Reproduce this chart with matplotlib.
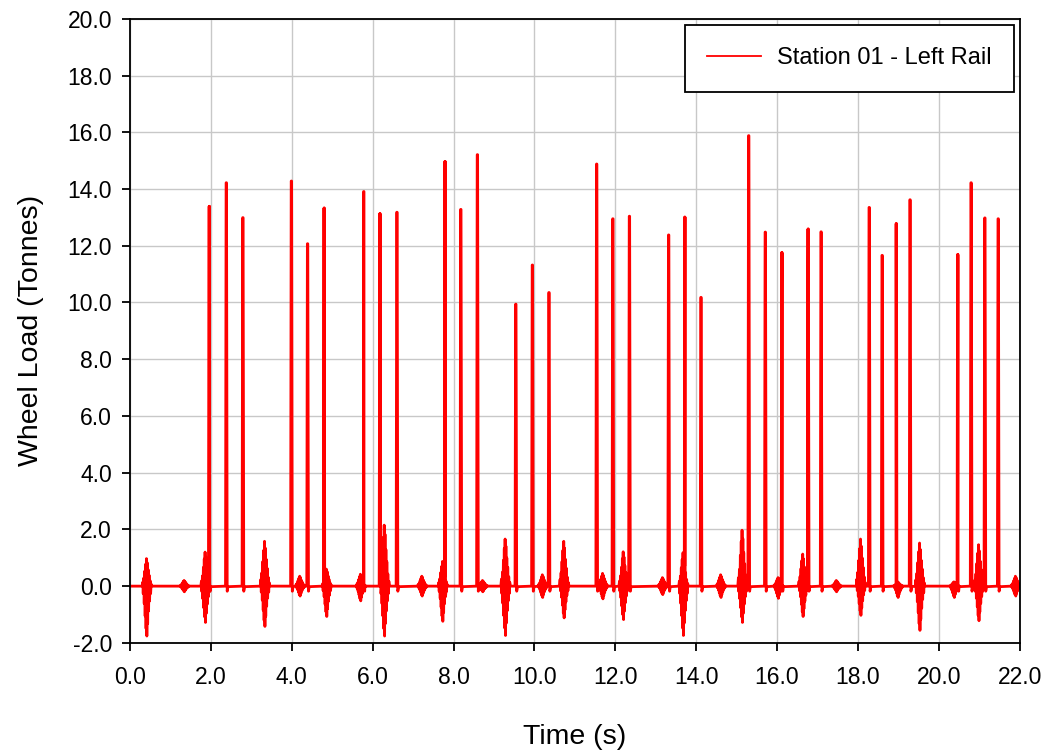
import numpy as np
import matplotlib
matplotlib.use("Agg")
import matplotlib.pyplot as plt

plt.rcParams["font.family"] = ["Liberation Sans", "DejaVu Sans"]

# Wheel passes: time of spike (s) and peak load (tonnes)
peak_t = [1.96, 2.38, 2.79, 3.99, 4.39, 4.80, 5.78, 6.18, 6.60,
          7.79, 8.18, 8.59, 9.54, 9.95, 10.36, 11.54, 11.94, 12.35, 13.32, 13.72,
          14.12, 15.30, 15.71, 16.12, 16.77, 17.09, 18.28, 18.60, 18.95, 19.29,
          20.47, 20.80, 21.14, 21.47]
peak_v = [13.39, 14.22, 12.99, 14.28, 12.07, 13.33, 13.91, 13.13, 13.18,
          14.97, 13.28, 15.21, 9.94, 11.32, 10.35, 14.88, 12.95, 13.04, 12.38, 13.01,
          10.18, 15.88, 12.48, 11.76, 12.59, 12.49, 13.35, 11.66, 12.78, 13.62,
          11.69, 14.22, 12.98, 12.95]

# Vibration bursts between passes: centre time, max and min load
burst_t = [0.41, 1.34, 1.86, 3.33, 4.20, 4.86, 5.70, 6.29,
           7.22, 7.73, 8.72, 9.28, 10.20, 10.73, 11.69, 12.20, 13.17, 13.68,
           14.61, 15.14, 16.03, 16.64, 17.47, 18.07, 18.99, 19.53, 20.38, 20.99, 21.90]
burst_hi = [0.97, 0.20, 1.20, 1.58, 0.35, 0.60, 0.42, 2.15,
            0.35, 0.87, 0.20, 1.66, 0.40, 1.58, 0.45, 1.21, 0.30, 1.18,
            0.40, 1.97, 0.30, 1.13, 0.20, 1.66, 0.15, 1.52, 0.15, 1.46, 0.35]
burst_lo = [-1.76, -0.20, -1.28, -1.42, -0.35, -1.07, -0.52, -1.76,
            -0.35, -1.24, -0.20, -1.74, -0.40, -1.12, -0.45, -1.18, -0.30, -1.74,
            -0.40, -1.28, -0.43, -1.07, -0.20, -1.03, -0.40, -1.56, -0.40, -1.22, -0.35]

t_end = 22.0

# assemble trace: flat baseline, narrow spikes, zigzag bursts
pts = [(0.0, 0.0), (t_end, 0.0)]
for t, v in zip(peak_t, peak_v):
    pts += [(t - 0.02, 0.0), (t - 0.005, v), (t + 0.005, v), (t + 0.022, -0.18), (t + 0.04, -0.02)]
# burst outline: (offset s, share of max, share of min)
shape = [(-0.11, 0.0, 0.0), (-0.095, 0.15, 0), (-0.085, 0, 0.15), (-0.07, 0.3, 0), (-0.06, 0, 0.35),
         (-0.047, 0.55, 0), (-0.037, 0, 0.6), (-0.025, 0.8, 0), (-0.015, 0, 0.85),
         (-0.005, 1.0, 0), (0.005, 0, 1.0), (0.015, 0.85, 0), (0.025, 0, 0.75),
         (0.037, 0.6, 0), (0.048, 0, 0.5), (0.06, 0.4, 0), (0.072, 0, 0.3),
         (0.085, 0.2, 0), (0.098, 0, 0.15), (0.11, 0.08, 0), (0.125, 0.0, 0.0)]
for t, hi, lo in zip(burst_t, burst_hi, burst_lo):
    for dt, fh, fl in shape:
        pts.append((t + dt, fh * hi + fl * lo))
pts.sort(key=lambda p: p[0])
x = np.array([p[0] for p in pts])
y = np.array([p[1] for p in pts])

fig = plt.figure(figsize=(10.49, 7.51), dpi=100)
ax = fig.add_axes([0.124, 0.144, 0.848, 0.831])
ax.plot(x, y, color="#ff0000", linewidth=2.0, label="Station 01 - Left Rail")

ticks_x = np.arange(0, 22.1, 2)
ticks_y = np.arange(-2, 20.1, 2)
ax.set_xlim(0, 22)
ax.set_ylim(-2, 20)
ax.set_xticks(ticks_x)
ax.set_yticks(ticks_y)
ax.set_xticklabels([f"{v:.1f}" for v in ticks_x])
ax.set_yticklabels([f"{v:.1f}" for v in ticks_y])
ax.grid(True, color="#c8c8c8", linewidth=1.0)
ax.set_axisbelow(True)
ax.tick_params(direction="out", length=6, width=1.3, labelsize=16.5)
ax.tick_params(axis="x", pad=11)
ax.tick_params(axis="y", pad=7)
for s in ax.spines.values():
    s.set_linewidth(1.3)
ax.set_xlabel("Time (s)", fontsize=20.5, labelpad=25)
ax.set_ylabel("Wheel Load (Tonnes)", fontsize=20.5, labelpad=17)

leg = ax.legend(loc="upper right", fontsize=17, fancybox=False, framealpha=1,
                edgecolor="black", borderpad=0.95, handlelength=2.3, handletextpad=0.65,
                borderaxespad=0.25)
leg.get_frame().set_linewidth(1.3)
leg.get_lines()[0].set_linewidth(1.3)

fig.savefig("out.png", dpi=100)
